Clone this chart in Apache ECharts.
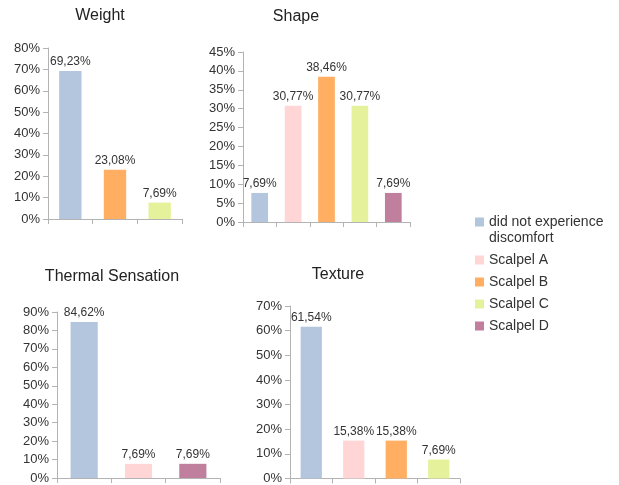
<!DOCTYPE html>
<html>
<head>
<meta charset="utf-8">
<script src="https://cdn.jsdelivr.net/npm/echarts@6/dist/echarts.min.js"></script>
<style>
  html, body { margin: 0; padding: 0; background: #fff; }
  #chart { width: 619px; height: 485px; }
</style>
</head>
<body>
<div id="chart"></div>
<script>
// groups shown in the legend
const groupNames = ['did not experience discomfort', 'Scalpel A', 'Scalpel B', 'Scalpel C', 'Scalpel D']
const groupColors = ['#b3c6de', '#ffd5d5', '#ffae62', '#e6f29b', '#bf7f9d']

// each panel: which groups appear and their values (%)
const weightGroups = [0, 2, 3]
const weightValues = [69.23, 23.08, 7.69]

const shapeGroups = [0, 1, 2, 3, 4]
const shapeValues = [7.69, 30.77, 38.46, 30.77, 7.69]

const thermalGroups = [0, 1, 4]
const thermalValues = [84.62, 7.69, 7.69]

const textureGroups = [0, 1, 2, 3]
const textureValues = [61.54, 15.38, 15.38, 7.69]

const panels = [
  { title: 'Weight', groups: weightGroups, values: weightValues, max: 80, interval: 10,
    grid: { left: 48, top: 48, width: 134, height: 171 }, titleX: 95, titleY: 3 },
  { title: 'Shape', groups: shapeGroups, values: shapeValues, max: 45, interval: 5,
    grid: { left: 243, top: 52, width: 167, height: 170 }, titleX: 291, titleY: 4 },
  { title: 'Thermal Sensation', groups: thermalGroups, values: thermalValues, max: 90, interval: 10,
    grid: { left: 57, top: 312, width: 163, height: 166 }, titleX: 107, titleY: 264 },
  { title: 'Texture', groups: textureGroups, values: textureValues, max: 70, interval: 10,
    grid: { left: 290, top: 306, width: 170, height: 173 }, titleX: 333, titleY: 262 }
]

const font = 'Liberation Sans, Arial, sans-serif'
const axisGrey = '#b3b3b3'

const chart = echarts.init(document.getElementById('chart'))

const series = []
panels.forEach((p, pi) => {
  p.groups.forEach((g, i) => {
    series.push({
      name: groupNames[g],
      type: 'bar',
      xAxisIndex: pi,
      yAxisIndex: pi,
      barWidth: '50%',
      barGap: '-100%',
      itemStyle: { color: groupColors[g] },
      label: {
        show: true,
        position: 'top',
        distance: 3,
        color: '#333',
        fontSize: 12,
        fontFamily: font,
        formatter: (d) => d.value.toFixed(2).replace('.', ',') + '%'
      },
      data: p.groups.map((_, j) => (j === i ? p.values[i] : null))
    })
  })
})

const option = {
  animation: false,
  title: panels.map(p => ({
    text: p.title,
    left: p.titleX,
    top: p.titleY,
    textAlign: 'center',
    textStyle: { fontSize: 16, fontWeight: 'normal', color: '#222', fontFamily: font }
  })),
  legend: {
    orient: 'vertical',
    left: 475,
    top: 198,
    padding: 0,
    icon: 'rect',
    itemWidth: 9,
    itemHeight: 9,
    itemGap: 6,
    selectedMode: false,
    data: groupNames,
    textStyle: { fontSize: 14, color: '#333', fontFamily: font, lineHeight: 16 },
    // blank first line keeps the square beside the first text line
    formatter: (name) => name.indexOf('experience ') >= 0
      ? ' \n' + name.replace('experience ', 'experience\n')
      : name
  },
  grid: panels.map(p => p.grid),
  xAxis: panels.map((p, pi) => ({
    type: 'category',
    gridIndex: pi,
    data: p.groups.map(g => groupNames[g]),
    axisLine: { lineStyle: { color: axisGrey } },
    axisTick: { show: true, length: 5, interval: 0, lineStyle: { color: axisGrey } },
    axisLabel: { show: false }
  })),
  yAxis: panels.map((p, pi) => ({
    type: 'value',
    gridIndex: pi,
    min: 0,
    max: p.max,
    interval: p.interval,
    axisLine: { show: true, lineStyle: { color: axisGrey } },
    axisTick: { show: true, length: 5, lineStyle: { color: axisGrey } },
    splitLine: { show: false },
    axisLabel: { formatter: '{value}%', fontSize: 13, color: '#333', fontFamily: font, margin: 8 }
  })),
  series: series
}

chart.setOption(option)
</script>
</body>
</html>
